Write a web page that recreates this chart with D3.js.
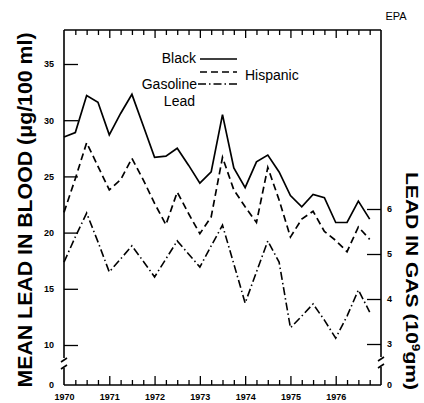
<!DOCTYPE html>
<html>
<head>
<meta charset="utf-8">
<script src="https://cdn.jsdelivr.net/npm/d3@7/dist/d3.min.js"></script>
<style>
  html, body { margin: 0; padding: 0; background: #fff; }
  svg { display: block; font-family: "Liberation Sans", Arial, Helvetica, sans-serif; }
</style>
</head>
<body>
<svg id="chart" width="424" height="403"></svg>
<script>
// Quarterly data, 1970 Q1 .. 1976 Q4
const startYear = 1970;
const blackLead = [28.5, 28.9, 32.2, 31.6, 28.7, 30.6, 32.3, 29.5, 26.7, 26.8, 27.5, 26.0,
                   24.4, 25.4, 30.5, 25.75, 24.0, 26.3, 26.9, 25.4, 23.3, 22.3, 23.4, 23.1,
                   20.9, 20.9, 22.8, 21.2];
const hispanicLead = [21.8, 24.8, 28.0, 25.9, 23.8, 24.7, 26.6, 24.7, 22.6, 20.7, 23.6, 21.7,
                      19.9, 21.4, 26.7, 23.8, 22.3, 20.9, 25.8, 22.9, 19.6, 21.2, 21.9, 20.1,
                      19.3, 18.3, 20.5, 19.4];
const gasolineLead = [4.82, 5.38, 5.91, 5.27, 4.60, 4.89, 5.18, 4.84, 4.49, 4.89, 5.29, 5.00,
                      4.71, 5.18, 5.64, 4.78, 3.91, 4.60, 5.29, 4.82, 3.36, 3.62, 3.89, 3.53,
                      3.13, 3.62, 4.20, 3.71];
const yearLabels = [1970, 1971, 1972, 1973, 1974, 1975, 1976];
const leftTicks = [0, 10, 15, 20, 25, 30, 35];
const rightTicks = [0, 3, 4, 5, 6];
const legendLabels = ["Black", "Hispanic", "Gasoline", "Lead"];

const svg = d3.select("#chart");
const L = 64, R = 381, T = 30, B = 385;

const x = d3.scaleLinear().domain([1970, 1977]).range([L, R]);
const yL = d3.scaleLinear().domain([0, 10, 35]).range([B, 345, 64]);
const yR = d3.scaleLinear().domain([0, 3, 6]).range([B, 344, 209]);

const qx = i => x(startYear + i / 4);

// frame lines (with axis breaks)
const frame = svg.append("g").attr("stroke", "#000").attr("stroke-width", 1.6).attr("fill", "none");
frame.append("line").attr("x1", L).attr("x2", R).attr("y1", T).attr("y2", T);
frame.append("line").attr("x1", L).attr("x2", R).attr("y1", B).attr("y2", B);
// left axis
frame.append("line").attr("x1", L).attr("x2", L).attr("y1", T).attr("y2", 358);
frame.append("line").attr("x1", L).attr("x2", L).attr("y1", 368).attr("y2", B);
frame.append("line").attr("x1", L - 3).attr("x2", L + 3).attr("y1", 362).attr("y2", 358);
frame.append("line").attr("x1", L - 3).attr("x2", L + 3).attr("y1", 369).attr("y2", 365);
// right axis
frame.append("line").attr("x1", R).attr("x2", R).attr("y1", T).attr("y2", 357);
frame.append("line").attr("x1", R).attr("x2", R).attr("y1", 367).attr("y2", B);
frame.append("line").attr("x1", R - 3).attr("x2", R + 3).attr("y1", 361).attr("y2", 357);
frame.append("line").attr("x1", R - 3).attr("x2", R + 3).attr("y1", 368).attr("y2", 364);

const quarters = d3.range(1, 28).map(i => startYear + i / 4).filter(v => v % 1 !== 0);
const majors = d3.range(1971, 1977);

function styleAxis(g) {
  g.select(".domain").remove();
  g.selectAll("line").attr("stroke", "#000").attr("stroke-width", 1.3);
  g.selectAll("text").attr("fill", "#000").style("font-size", "9px").style("font-weight", "bold")
    .style("font-family", "'Liberation Sans', Arial, sans-serif");
}

// bottom axis
svg.append("g").attr("transform", `translate(0,${B})`)
  .call(d3.axisBottom(x).tickValues(quarters).tickSize(-5).tickFormat(""))
  .call(styleAxis);
svg.append("g").attr("transform", `translate(0,${B})`)
  .call(d3.axisBottom(x).tickValues(majors).tickSize(-9).tickFormat(""))
  .call(styleAxis);
svg.append("g").attr("transform", `translate(0,${B})`)
  .call(d3.axisBottom(x).tickValues(yearLabels).tickSize(0).tickPadding(9).tickFormat(d3.format("d")))
  .call(styleAxis);

// top axis
svg.append("g").attr("transform", `translate(0,${T})`)
  .call(d3.axisTop(x).tickValues(quarters).tickSize(-5).tickFormat(""))
  .call(styleAxis);
svg.append("g").attr("transform", `translate(0,${T})`)
  .call(d3.axisTop(x).tickValues(majors).tickSize(-8).tickFormat(""))
  .call(styleAxis);

// left axis
svg.append("g").attr("transform", `translate(${L},0)`)
  .call(d3.axisLeft(yL).tickValues(leftTicks).tickSize(-14).tickPadding(10).tickFormat(d3.format("d")))
  .call(styleAxis)
  .call(g => g.selectAll(".tick").filter(d => d === 0).select("line").remove());

// right axis
svg.append("g").attr("transform", `translate(${R},0)`)
  .call(d3.axisRight(yR).tickValues(rightTicks).tickSize(-14).tickPadding(6).tickFormat(d3.format("d")))
  .call(styleAxis)
  .call(g => g.selectAll(".tick").filter(d => d === 0).select("line").remove());

// series lines
const lineL = d3.line().x((d, i) => qx(i)).y(d => yL(d));
const lineR = d3.line().x((d, i) => qx(i)).y(d => yR(d));

svg.append("path").datum(blackLead).attr("d", lineL)
  .attr("fill", "none").attr("stroke", "#000").attr("stroke-width", 1.7);
svg.append("path").datum(hispanicLead).attr("d", lineL)
  .attr("fill", "none").attr("stroke", "#000").attr("stroke-width", 1.7)
  .attr("stroke-dasharray", "7,4");
svg.append("path").datum(gasolineLead).attr("d", lineR)
  .attr("fill", "none").attr("stroke", "#000").attr("stroke-width", 1.6)
  .attr("stroke-dasharray", "8,3,1.5,3");

// legend
const lg = svg.append("g").style("font-size", "14px").attr("fill", "#000");
lg.append("text").attr("x", 196).attr("y", 63).attr("text-anchor", "end").text(legendLabels[0]);
lg.append("line").attr("x1", 200).attr("x2", 237).attr("y1", 59).attr("y2", 59)
  .attr("stroke", "#000").attr("stroke-width", 1.4);
lg.append("line").attr("x1", 200).attr("x2", 237).attr("y1", 72).attr("y2", 72)
  .attr("stroke", "#000").attr("stroke-width", 1.6).attr("stroke-dasharray", "7,4");
lg.append("text").attr("x", 245).attr("y", 80).text(legendLabels[1]);
lg.append("text").attr("x", 197).attr("y", 89).attr("text-anchor", "end").text(legendLabels[2]);
lg.append("line").attr("x1", 198).attr("x2", 237).attr("y1", 84).attr("y2", 84)
  .attr("stroke", "#000").attr("stroke-width", 1.6).attr("stroke-dasharray", "8,3,1.5,3");
lg.append("text").attr("x", 195).attr("y", 106).attr("text-anchor", "end").text(legendLabels[3]);

// EPA
svg.append("text").attr("x", 396).attr("y", 20).attr("text-anchor", "middle")
  .style("font-size", "11px").text("EPA");

// axis titles
svg.append("text")
  .attr("transform", "translate(32,210) rotate(-90)")
  .attr("text-anchor", "middle")
  .style("font-size", "21px").style("font-weight", "bold")
  .attr("textLength", 355).attr("lengthAdjust", "spacingAndGlyphs")
  .text("MEAN LEAD IN BLOOD (μg/100 ml)");

const rt = svg.append("text")
  .attr("transform", "translate(406,281) rotate(90)")
  .attr("text-anchor", "middle")
  .style("font-size", "17px").style("font-weight", "bold")
  .attr("textLength", 218).attr("lengthAdjust", "spacingAndGlyphs");
rt.append("tspan").text("LEAD IN GAS (10");
rt.append("tspan").attr("dy", -6).style("font-size", "11px").text("9");
rt.append("tspan").attr("dy", 6).text("gm)");
</script>
</body>
</html>
